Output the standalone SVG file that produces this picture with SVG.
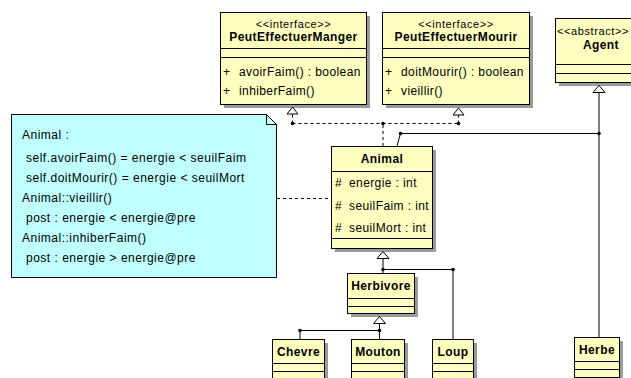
<svg xmlns="http://www.w3.org/2000/svg" width="631" height="378" viewBox="0 0 631 378">
<defs>
<style>
text{font-family:"Liberation Sans",Arial,sans-serif;font-size:12px;fill:#000;letter-spacing:0.4px}
.b{font-weight:bold}
.c{text-anchor:middle}
.st{font-size:11px;letter-spacing:0.6px}
.box{fill:#FFFFC0;stroke:#000;stroke-width:1}
.sh{fill:#9a9a9a}
.dv{stroke:#000;stroke-width:1}
.note{fill:#C0FFFF;stroke:#000;stroke-width:1}
.nt{letter-spacing:0.5px}
.ln{fill:none;stroke:#000;stroke-width:1}
.ds{fill:none;stroke:#000;stroke-width:1;stroke-dasharray:3,3}
.tri{fill:#fff;stroke:#000;stroke-width:1}
.dot{fill:#000}
</style>
</defs>
<rect width="631" height="378" fill="#fff"/>

<g id="note">
<path class="note" d="M11.5,114.5 H266.5 L276.5,124.5 V277.5 H11.5 Z"/>
<path class="ln" d="M266.5,114.5 V124.5 H276.5"/>
<text class="nt" x="22" y="139">Animal :</text>
<text class="nt" x="26" y="162">self.avoirFaim() = energie &lt; seuilFaim</text>
<text class="nt" x="26" y="182">self.doitMourir() = energie &lt; seuilMort</text>
<text class="nt" x="22" y="202">Animal::vieillir()</text>
<text class="nt" x="26" y="222">post : energie &lt; energie@pre</text>
<text class="nt" x="22" y="242">Animal::inhiberFaim()</text>
<text class="nt" x="26" y="262">post : energie &gt; energie@pre</text>
</g>

<g id="PeutEffectuerManger">
<rect class="sh" x="224" y="16" width="146" height="92"/>
<rect class="box" x="220.5" y="12.5" width="146" height="92"/>
<line class="dv" x1="220.5" y1="48.5" x2="366.5" y2="48.5"/>
<line class="dv" x1="220.5" y1="57.5" x2="366.5" y2="57.5"/>
<text class="c st" x="293.5" y="28">&lt;&lt;interface&gt;&gt;</text>
<text class="c b" x="293.5" y="41">PeutEffectuerManger</text>
<text x="223" y="76">+</text>
<text x="239" y="76">avoirFaim() : boolean</text>
<text x="223" y="95">+</text>
<text x="239" y="95">inhiberFaim()</text>
</g>

<g id="PeutEffectuerMourir">
<rect class="sh" x="386" y="16" width="147" height="92"/>
<rect class="box" x="382.5" y="12.5" width="147" height="92"/>
<line class="dv" x1="382.5" y1="48.5" x2="529.5" y2="48.5"/>
<line class="dv" x1="382.5" y1="57.5" x2="529.5" y2="57.5"/>
<text class="c st" x="456" y="28">&lt;&lt;interface&gt;&gt;</text>
<text class="c b" x="456" y="41">PeutEffectuerMourir</text>
<text x="385" y="76">+</text>
<text x="401" y="76">doitMourir() : boolean</text>
<text x="385" y="95">+</text>
<text x="401" y="95">vieillir()</text>
</g>

<g id="Agent">
<rect class="sh" x="559" y="22" width="90" height="64"/>
<rect class="box" x="555.5" y="18.5" width="90" height="64"/>
<line class="dv" x1="555.5" y1="64.5" x2="645.5" y2="64.5"/>
<line class="dv" x1="555.5" y1="73.5" x2="645.5" y2="73.5"/>
<text class="st" x="557" y="35">&lt;&lt;abstract&gt;&gt;</text>
<text class="c b" x="601" y="49">Agent</text>
</g>

<g id="Animal">
<rect class="sh" x="335" y="150" width="101" height="102"/>
<rect class="box" x="331.5" y="146.5" width="101" height="102"/>
<line class="dv" x1="331.5" y1="171.5" x2="432.5" y2="171.5"/>
<line class="dv" x1="331.5" y1="238.5" x2="432.5" y2="238.5"/>
<text class="c b" x="382" y="163">Animal</text>
<text x="335" y="187">#</text>
<text x="349" y="187">energie : int</text>
<text x="335" y="210">#</text>
<text x="349" y="210">seuilFaim : int</text>
<text x="335" y="232">#</text>
<text x="349" y="232">seuilMort : int</text>
</g>

<g id="Herbivore">
<rect class="sh" x="351" y="277" width="67" height="40"/>
<rect class="box" x="347.5" y="273.5" width="67" height="40"/>
<line class="dv" x1="347.5" y1="298.5" x2="414.5" y2="298.5"/>
<line class="dv" x1="347.5" y1="306.5" x2="414.5" y2="306.5"/>
<text class="c b" x="381" y="290">Herbivore</text>
</g>

<g id="Chevre">
<rect class="sh" x="276" y="343" width="52" height="40"/>
<rect class="box" x="272.5" y="339.5" width="52" height="40"/>
<line class="dv" x1="272.5" y1="363.5" x2="324.5" y2="363.5"/>
<line class="dv" x1="272.5" y1="371.5" x2="324.5" y2="371.5"/>
<text class="c b" x="298.5" y="356">Chevre</text>
</g>

<g id="Mouton">
<rect class="sh" x="355" y="343" width="53" height="40"/>
<rect class="box" x="351.5" y="339.5" width="53" height="40"/>
<line class="dv" x1="351.5" y1="363.5" x2="404.5" y2="363.5"/>
<line class="dv" x1="351.5" y1="371.5" x2="404.5" y2="371.5"/>
<text class="c b" x="378" y="356">Mouton</text>
</g>

<g id="Loup">
<rect class="sh" x="436" y="343" width="41" height="40"/>
<rect class="box" x="432.5" y="339.5" width="41" height="40"/>
<line class="dv" x1="432.5" y1="363.5" x2="473.5" y2="363.5"/>
<line class="dv" x1="432.5" y1="371.5" x2="473.5" y2="371.5"/>
<text class="c b" x="453" y="356">Loup</text>
</g>

<g id="Herbe">
<rect class="sh" x="578" y="341" width="45" height="40"/>
<rect class="box" x="574.5" y="337.5" width="45" height="40"/>
<line class="dv" x1="574.5" y1="361.5" x2="619.5" y2="361.5"/>
<line class="dv" x1="574.5" y1="369.5" x2="619.5" y2="369.5"/>
<text class="c b" x="597" y="354">Herbe</text>
</g>

<g id="connectors">
<line class="ds" x1="277" y1="198.5" x2="331" y2="198.5"/>
<path class="ds" d="M383,146 V123.5 M292.5,123.5 H458.5"/>
<path class="ds" d="M292.5,123.5 V114"/>
<path class="ds" d="M458.5,123.5 V115"/>
<path class="tri" d="M292.5,107 L287,114 H298 Z"/>
<path class="tri" d="M458.5,108 L453,115 H464 Z"/>
<circle class="dot" cx="292.5" cy="123.5" r="1.8"/>
<circle class="dot" cx="458.5" cy="123.5" r="1.8"/>
<circle class="dot" cx="383" cy="123.5" r="1.8"/>
<path class="ln" d="M397,146 L400.5,133.5 H599"/>
<circle class="dot" cx="400.5" cy="133.5" r="1.8"/>
<line class="ln" x1="599" y1="92" x2="599" y2="337"/>
<path class="tri" d="M599,85.5 L593,92.5 H605 Z"/>
<circle class="dot" cx="599" cy="133.5" r="1.8"/>
<path class="tri" d="M383,251.5 L377,258.5 H389 Z"/>
<path class="ln" d="M383,258.5 V273 M383,269.5 H453 V339"/>
<circle class="dot" cx="383" cy="269.5" r="1.8"/>
<circle class="dot" cx="453" cy="269.5" r="1.8"/>
<path class="tri" d="M379.5,316.5 L373.5,323.5 H385.5 Z"/>
<path class="ln" d="M379.5,323.5 V339 M379.5,330.5 H300 V339"/>
<circle class="dot" cx="379.5" cy="330.5" r="1.8"/>
<circle class="dot" cx="300" cy="330.5" r="1.8"/>
</g>
</svg>
